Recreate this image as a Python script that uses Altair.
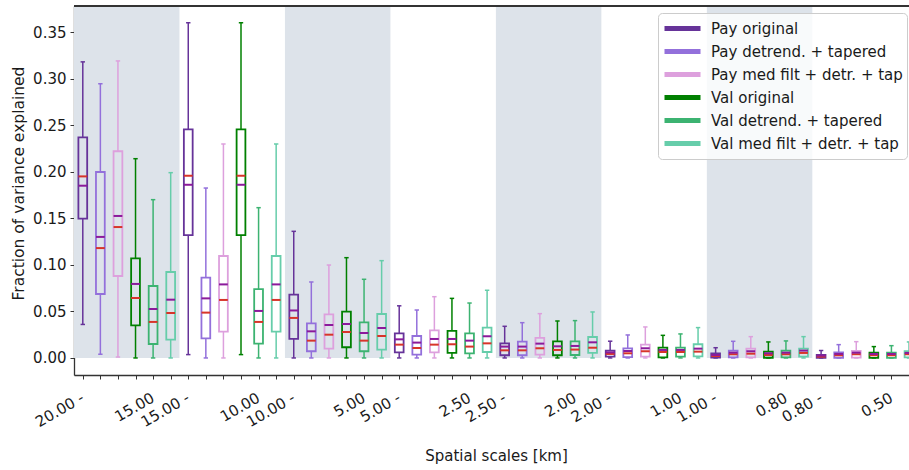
import altair as alt
import pandas as pd

series = ["Pay original", "Pay detrend. + tapered", "Pay med filt + detr. + tap",
          "Val original", "Val detrend. + tapered", "Val med filt + detr. + tap"]
colors = ["#663399", "#9370db", "#dda0dd", "#008000", "#3cb371", "#66cdaa"]

scale_hi = ["20.00", "15.00", "10.00", "5.00", "2.50", "2.00", "1.00", "0.80"]
scale_lo = ["15.00", "10.00", "5.00", "2.50", "2.00", "1.00", "0.80", "0.50"]

# per series, 8 scale bins each
whisk_hi = [
    [0.318, 0.360, 0.136, 0.056, 0.034, 0.018, 0.011, 0.008],
    [0.2945, 0.1825, 0.0816, 0.0515, 0.0379, 0.0247, 0.0179, 0.0143],
    [0.319, 0.2298, 0.0998, 0.0658, 0.0476, 0.0333, 0.0229, 0.0175],
    [0.214, 0.360, 0.1077, 0.064, 0.0397, 0.0243, 0.0172, 0.0122],
    [0.170, 0.1614, 0.0845, 0.059, 0.0401, 0.0258, 0.0183, 0.0132],
    [0.199, 0.2298, 0.1045, 0.0727, 0.0494, 0.0326, 0.0229, 0.0172],
]
box_q3 = [
    [0.237, 0.2455, 0.068, 0.0265, 0.0157, 0.0079, 0.005, 0.0032],
    [0.1997, 0.0862, 0.0372, 0.0236, 0.0175, 0.0104, 0.0079, 0.006],
    [0.222, 0.1095, 0.0469, 0.0297, 0.0215, 0.0143, 0.010, 0.0075],
    [0.107, 0.2455, 0.0497, 0.029, 0.0179, 0.011, 0.0068, 0.0057],
    [0.0773, 0.074, 0.0383, 0.0265, 0.0179, 0.011, 0.0079, 0.0057],
    [0.0923, 0.1095, 0.0472, 0.0326, 0.0225, 0.0147, 0.010, 0.0072],
]
means = [
    [0.185, 0.186, 0.051, 0.020, 0.0122, 0.006, 0.0032, 0.0025],
    [0.130, 0.064, 0.0286, 0.0165, 0.0122, 0.0075, 0.0057, 0.0043],
    [0.1525, 0.079, 0.0354, 0.0204, 0.0154, 0.0104, 0.0072, 0.0057],
    [0.0795, 0.186, 0.0365, 0.0204, 0.0125, 0.0086, 0.005, 0.0043],
    [0.0526, 0.0505, 0.0268, 0.0186, 0.0129, 0.0086, 0.0057, 0.0043],
    [0.0626, 0.079, 0.0322, 0.0233, 0.0168, 0.010, 0.0079, 0.0054],
]
medians = [
    [0.195, 0.1957, 0.043, 0.0143, 0.0082, 0.0043, 0.0021, 0.0014],
    [0.118, 0.0487, 0.0186, 0.0107, 0.0082, 0.005, 0.004, 0.0029],
    [0.1406, 0.0623, 0.025, 0.0143, 0.0104, 0.0072, 0.0046, 0.004],
    [0.0644, 0.1957, 0.0279, 0.0147, 0.0086, 0.0064, 0.0032, 0.0029],
    [0.0387, 0.0387, 0.0186, 0.0122, 0.009, 0.0064, 0.004, 0.0029],
    [0.0483, 0.0623, 0.0236, 0.0157, 0.011, 0.0068, 0.0054, 0.004],
]
box_q1 = [
    [0.1496, 0.132, 0.0204, 0.006, 0.0029, 0.0014, 0.0005, 0.0002],
    [0.0687, 0.021, 0.0072, 0.0036, 0.0029, 0.001, 0.0007, 0.0002],
    [0.088, 0.0283, 0.010, 0.006, 0.0036, 0.0014, 0.0007, 0.0003],
    [0.035, 0.132, 0.0115, 0.0054, 0.0029, 0.0007, 0.0002, 0.0001],
    [0.015, 0.0154, 0.0072, 0.005, 0.0032, 0.0014, 0.0007, 0.0001],
    [0.0197, 0.0283, 0.009, 0.0064, 0.0054, 0.0018, 0.0014, 0.0007],
]
whisk_lo = [
    [0.036, 0.0036, 0.0, 0.0, 0.0, 0.0, 0.0, 0.0],
    [0.004, 0.0, 0.0, 0.0, 0.0, 0.0, 0.0, 0.0],
    [0.001, 0.0, 0.0, 0.0, 0.0, 0.0, 0.0, 0.0],
    [0.0, 0.0036, 0.0, 0.0, 0.0, 0.0, 0.0, 0.0],
    [0.0, 0.0, 0.0, 0.0, 0.0, 0.0, 0.0, 0.0],
    [0.0, 0.0, 0.0, 0.0, 0.0, 0.0, 0.0, 0.0],
]

n_groups = len(scale_hi)
n_series = len(series)
Y_TOP = 0.378
Y_BOT = -0.0183

rows = []
for s, name in enumerate(series):
    for g in range(n_groups):
        rows.append(dict(series=name, slot=g * n_series + s,
                         lo=whisk_lo[s][g], q1=box_q1[s][g], med=medians[s][g],
                         mean=means[s][g], q3=box_q3[s][g], hi=whisk_hi[s][g]))
df = pd.DataFrame(rows)

bg = pd.DataFrame([dict(x0=g * n_series - 0.5, x1=g * n_series + n_series - 0.5, y0=0.0, y1=Y_TOP)
                   for g in range(0, n_groups, 2)])

FONT = "DejaVu Sans"
W, H = 835, 369
FS = 15

hi_js = "[" + ",".join("'%s -'" % v for v in scale_hi) + "]"
lo_js = "[" + ",".join("'%s'" % v for v in scale_lo) + "]"
label_expr = ("datum.value % 6 == 0 ? {hi}[floor(datum.value / 6)] : "
              "(datum.value % 6 == 4 ? {lo}[floor(datum.value / 6)] : '')").format(hi=hi_js, lo=lo_js)

xs = alt.Scale(domain=[-0.5, 47.0], nice=False, zero=False)
ys = alt.Scale(domain=[Y_BOT, Y_TOP], nice=False, zero=False)

xaxis = alt.Axis(values=list(range(48)), labelExpr=label_expr, labelAngle=-30,
                 labelAlign="right", labelBaseline="top", labelFontSize=FS,
                 labelFont=FONT, labelColor="#1a1a1a", labelOverlap=False, labelFlush=False,
                 labelPadding=11, labelOffset=-4, labelBound=False,
                 tickColor="#333333", tickSize=4, tickWidth=1,
                 domainColor="#333333", domainWidth=1.3, grid=False,
                 title="Spatial scales [km]", titleFont=FONT, titleFontSize=FS,
                 titleFontWeight="normal", titleColor="#1a1a1a",
                 titleX=422, titleY=80, titleBaseline="middle", titleAlign="center")
yaxis = alt.Axis(values=[0, 0.05, 0.10, 0.15, 0.20, 0.25, 0.30, 0.35], format=".2f",
                 labelFontSize=FS, labelFont=FONT, labelColor="#1a1a1a", labelPadding=4,
                 labelFlush=False, labelOverlap=False,
                 tickColor="#333333", tickSize=4, tickWidth=1,
                 domainColor="#333333", domainWidth=1.3, grid=False,
                 title="Fraction of variance explained", titleFont=FONT, titleFontSize=FS + 0.5,
                 titleFontWeight="normal", titleColor="#1a1a1a",
                 titleX=-56, titleY=177, titleBaseline="middle", titleAlign="center", titleAngle=-90)

stroke_enc = alt.Stroke("series:N", scale=alt.Scale(domain=series, range=colors),
                        legend=alt.Legend(title=None, orient="none", legendX=584, legendY=7,
                                          symbolType="stroke", symbolSize=1296, symbolStrokeWidth=5,
                                          clipHeight=23, rowPadding=0, labelFontSize=15,
                                          labelFont=FONT, labelColor="#1a1a1a", labelOffset=8,
                                          labelLimit=400, padding=4, strokeColor="#cccccc",
                                          fillColor="rgba(255,255,255,0.8)", cornerRadius=4))

back = alt.Chart(bg).mark_rect(color="#dde3ea").encode(
    x=alt.X("x0:Q", scale=xs, axis=xaxis), x2="x1",
    y=alt.Y("y0:Q", scale=ys, axis=yaxis), y2="y1")

base = alt.Chart(df).transform_calculate(
    xl="datum.slot - 0.25", xr="datum.slot + 0.25",
    cl="datum.slot - 0.125", cr="datum.slot + 0.125")

whisk_up = base.mark_rule(strokeWidth=1.5, clip=True).encode(
    x=alt.X("slot:Q", scale=xs, axis=xaxis),
    y=alt.Y("q3:Q", scale=ys, axis=yaxis), y2="hi", stroke=stroke_enc)
whisk_dn = base.mark_rule(strokeWidth=1.5, clip=True).encode(
    x=alt.X("slot:Q", scale=xs, axis=xaxis),
    y=alt.Y("lo:Q", scale=ys, axis=yaxis), y2="q1", stroke=stroke_enc)
cap_up = base.mark_rule(strokeWidth=1.5, clip=True).encode(
    x=alt.X("cl:Q", scale=xs, axis=xaxis), x2="cr",
    y=alt.Y("hi:Q", scale=ys, axis=yaxis), stroke=stroke_enc)
cap_dn = base.mark_rule(strokeWidth=1.5, clip=True).encode(
    x=alt.X("cl:Q", scale=xs, axis=xaxis), x2="cr",
    y=alt.Y("lo:Q", scale=ys, axis=yaxis), stroke=stroke_enc)
boxes = base.mark_rect(fillOpacity=0, strokeWidth=1.8, clip=True).encode(
    x=alt.X("xl:Q", scale=xs, axis=xaxis), x2="xr",
    y=alt.Y("q1:Q", scale=ys, axis=yaxis), y2="q3", stroke=stroke_enc)
med_line = base.mark_rule(color="#d7342a", strokeWidth=2, clip=True).encode(
    x=alt.X("xl:Q", scale=xs, axis=xaxis), x2="xr",
    y=alt.Y("med:Q", scale=ys, axis=yaxis))
mean_line = base.mark_rule(color="#8b1a9b", strokeWidth=2, clip=True).encode(
    x=alt.X("xl:Q", scale=xs, axis=xaxis), x2="xr",
    y=alt.Y("mean:Q", scale=ys, axis=yaxis))
top_spine = alt.Chart(bg).mark_rule(color="#333333", strokeWidth=1.3).encode(
    x=alt.value(0), x2=alt.value(W), y=alt.value(0))

chart = alt.layer(back, whisk_up, whisk_dn, cap_up, cap_dn, boxes, med_line, mean_line, top_spine).properties(
    width=W, height=H,
    autosize=alt.AutoSizeParams(type="none"),
    padding={"left": 74, "top": 6, "right": 0, "bottom": 95},
).configure_view(stroke=None).configure(font=FONT, background="white")

chart.save("out.html", embed_options={"renderer": "svg", "actions": False})
